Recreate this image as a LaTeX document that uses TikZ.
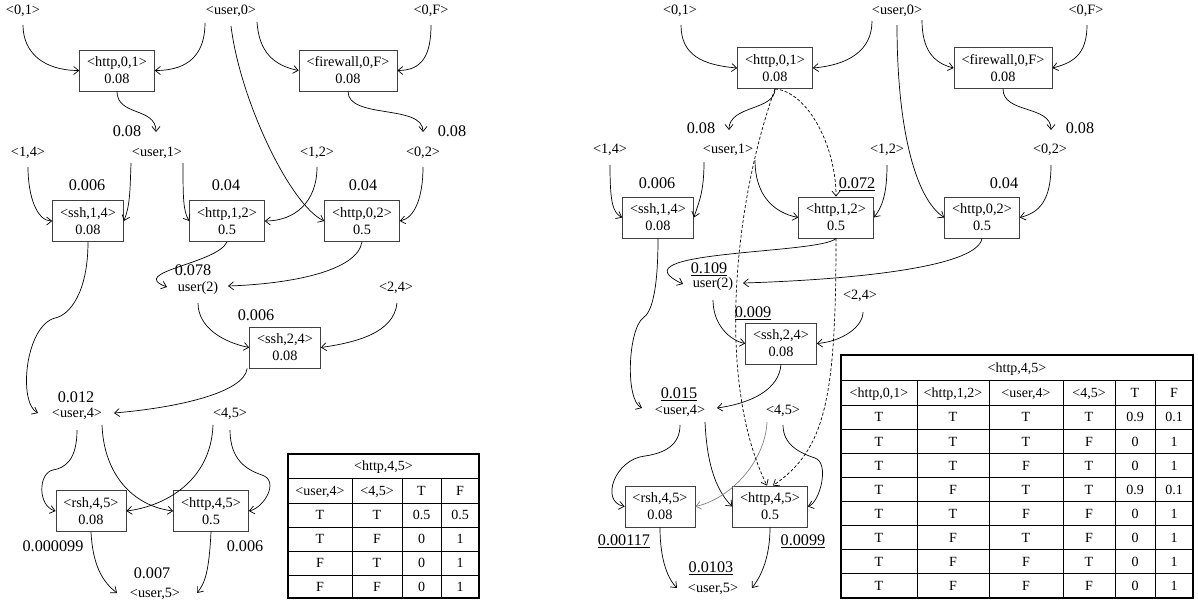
\documentclass[tikz,border=0pt]{standalone}
\usepackage{fontspec}
\setmainfont{Liberation Serif}
\usetikzlibrary{arrows.meta,calc}
\begin{document}
\begin{tikzpicture}[x=1pt,y=-1pt,
  tn/.style={inner sep=0pt, text height=9.7pt, text depth=0pt, font=\fontsize{14.3}{17}\selectfont},
  lb/.style={inner sep=0pt, text height=11pt, text depth=0pt, font=\fontsize{16.2}{19}\selectfont},
  bx/.style={draw=black!75, line width=0.8pt, align=center, inner xsep=7.5pt, inner ysep=0pt, minimum height=41pt, font=\fontsize{14.3}{17}\selectfont},
  ar/.style={line width=0.7pt, -{Straight Barb[length=5pt,width=8pt]}},
  dar/.style={ar, dash pattern=on 3pt off 2pt},
  tc/.style={inner sep=0pt, text height=9.7pt, text depth=0pt, font=\fontsize{14}{16}\selectfont},
  tout/.style={line width=1.5pt},
  tin/.style={line width=0.9pt}
]
\useasboundingbox (0,0) rectangle (1198,603);

% ================= LEFT PANEL =================
\node[tn] (a01) at (23,10) {<0,1>};
\node[tn] (au0) at (231,10) {<user,0>};
\node[tn] (a0F) at (431,10) {<0,F>};
\node[bx] (ah01) at (117,70.5) {<http,0,1>\\0.08};
\node[bx] (afw) at (348,70.5) {<firewall,0,F>\\0.08};
\node[tn] (au1) at (157,152) {<user,1>};
\node[lb] (lau1) at (127,131) {0.08};
\node[tn] (a02) at (423,152) {<0,2>};
\node[lb] (la02) at (452,131) {0.08};
\node[tn] (a14) at (28,152) {<1,4>};
\node[tn] (a12) at (317,152) {<1,2>};
\node[bx] (ash14) at (88,221) {<ssh,1,4>\\0.08};
\node[lb] (lash14) at (87,185) {0.006};
\node[bx] (ah12) at (227,221) {<http,1,2>\\0.5};
\node[lb] (lah12) at (226,185) {0.04};
\node[bx] (ah02) at (362,221) {<http,0,2>\\0.5};
\node[lb] (lah02) at (363,185) {0.04};
\node[tn] (au2) at (198,287) {user(2)};
\node[lb] (lau2) at (193,270) {0.078};
\node[tn] (a24) at (396,287) {<2,4>};
\node[bx] (ash24) at (285,347.5) {<ssh,2,4>\\0.08};
\node[lb] (lash24) at (256,315) {0.006};
\node[tn] (au4) at (77,413) {<user,4>};
\node[lb] (lau4) at (76,397) {0.012};
\node[tn] (a45) at (230,413) {<4,5>};
\node[bx] (arsh) at (91,511) {<rsh,4,5>\\0.08};
\node[bx] (ah45) at (211,511) {<http,4,5>\\0.5};
\node[lb] (larsh) at (53,546) {0.000099};
\node[lb] (lah45) at (245,546) {0.006};
\node[tn] (au5) at (155,593) {<user,5>};
\node[lb] (lau5) at (152,573) {0.007};

\draw[ar] ($(a01)+(0,15)$) .. controls +(0,28) and +(-35,0) .. (ah01.west);
\draw[ar] ($(au0)+(-26,13)$) .. controls +(0,30) and +(35,0) .. (ah01.east);
\draw[ar] ($(au0)+(26,12)$) .. controls +(2,30) and +(-25,-5) .. (afw.west);
\draw[ar] ($(a0F)+(0,15)$) .. controls +(0,30) and +(25,0) .. (afw.east);
\draw[ar] ($(au0)+(0,16)$) .. controls +(9,74) and +(-34,-16) .. (ah02.west);
\draw[ar] (ah01.south) .. controls +(0,25) and +(0,-25) .. ($(au1)+(-1,-20)$);
\draw[ar] (afw.south) .. controls +(0,28) and +(0,-28) .. ($(a02)+(0,-20)$);
\draw[ar] ($(a14)+(0,15)$) .. controls +(0,30) and +(-15,0) .. (ash14.west);
\draw[ar] ($(au1)+(-26,11)$) .. controls +(-1,30) and +(6,-15) .. (ash14.east);
\draw[ar] ($(au1)+(26,11)$) .. controls +(0,35) and +(-6,-10) .. (ah12.west);
\draw[ar] ($(a12)+(0,15)$) .. controls +(0,35) and +(30,0) .. (ah12.east);
\draw[ar] ($(a02)+(0,15)$) .. controls +(0,30) and +(15,-3) .. (ah02.east);
\draw[ar] (ah12.south) .. controls +(-10,22) and +(-40,-15) .. ($(au2)+(-31,0)$);
\draw[ar] (ah02.south) .. controls +(-5,30) and +(60,-2) .. ($(au2)+(30,-1)$);
\draw[ar] ($(au2)+(0,16)$) .. controls +(0,25) and +(-25,-5) .. (ash24.west);
\draw[ar] ($(a24)+(1,16)$) .. controls +(-3,30) and +(35,-5) .. (ash24.east);
\draw[ar] (ash14.south) .. controls +(0,50) and +(15,-3) .. (55,318) .. controls +(-30,8) and +(-20,-10) .. ($(au4)+(-39,0)$);
\draw[ar] ($(ash24.south west)+(-2,0)$) .. controls +(-3,25) and +(60,-5) .. ($(au4)+(37,0)$);
\draw[ar] ($(au4)+(0,17)$) .. controls +(0,30) and +(12,-2) .. (53,470) .. controls +(-15,3) and +(-18,-5) .. (arsh.west);
\draw[ar] ($(au4)+(25,12)$) .. controls +(2,50) and +(-40,-5) .. (ah45.west);
\draw[ar] ($(a45)+(-17,12)$) .. controls +(-2,55) and +(40,-5) .. (arsh.east);
\draw[ar] ($(a45)+(0,17)$) .. controls +(0,30) and +(-15,-5) .. (262,475) .. controls +(18,6) and +(15,-3) .. (ah45.east);
\draw[ar] (arsh.south) .. controls +(2,40) and +(-10,-8) .. ($(au5)+(-38,0)$);
\draw[ar] (ah45.south) .. controls +(-2,40) and +(8,-10) .. ($(au5)+(42,0)$);

% left table
\draw[tin] (288,478) -- (479,478);
\foreach \y in {503,527,551,575} \draw[tin] (288,\y) -- (479,\y);
\foreach \x in {352,402,441} \draw[tin] (\x,478) -- (\x,598);
\draw[tout] (288,454) rectangle (479,598);
\node[tc] (LT-h) at (383.5,466) {<http,4,5>};
\node[tc] (LT-0-1) at (320,490.5) {<user,4>};
\node[tc] (LT-0-2) at (377,490.5) {<4,5>};
\node[tc] (LT-0-3) at (421.5,490.5) {T};
\node[tc] (LT-0-4) at (460,490.5) {F};
\foreach \r/\yy/\a/\b/\c/\d in {1/515/T/T/0.5/0.5, 2/539/T/F/0/1, 3/563/F/T/0/1, 4/586.5/F/F/0/1}{
  \node[tc] (LT-\r-1) at (320,\yy) {\a};
  \node[tc] (LT-\r-2) at (377,\yy) {\b};
  \node[tc] (LT-\r-3) at (421.5,\yy) {\c};
  \node[tc] (LT-\r-4) at (460,\yy) {\d};
}

% ================= RIGHT PANEL =================
\node[tn] (b01) at (680,10) {<0,1>};
\node[tn] (bu0) at (897,10) {<user,0>};
\node[tn] (b0F) at (1086,10) {<0,F>};
\node[bx] (bh01) at (775,68) {<http,0,1>\\0.08};
\node[bx] (bfw) at (1003,68) {<firewall,0,F>\\0.08};
\node[tn] (bu1) at (728,149) {<user,1>};
\node[lb] (lbu1) at (701,128) {0.08};
\node[tn] (b02) at (1050,149) {<0,2>};
\node[lb] (lb02) at (1080,128) {0.08};
\node[tn] (b14) at (610,149) {<1,4>};
\node[tn] (b12) at (887,149) {<1,2>};
\node[bx] (bsh14) at (658,217.5) {<ssh,1,4>\\0.08};
\node[lb] (lbsh14) at (657,183) {0.006};
\node[bx] (bh12) at (836,217.5) {<http,1,2>\\0.5};
\node[lb] (lbh12) at (857,183) {\underline{0.072}};
\node[bx] (bh02) at (982,217.5) {<http,0,2>\\0.5};
\node[lb] (lbh02) at (1004,183) {0.04};
\node[tn] (bu2) at (713,283) {user(2)};
\node[lb] (lbu2) at (709,268) {\underline{0.109}};
\node[tn] (b24) at (860,295) {<2,4>};
\node[bx] (bsh24) at (781,343.5) {<ssh,2,4>\\0.08};
\node[lb] (lbsh24) at (753,312) {\underline{0.009}};
\node[tn] (bu4) at (680,410) {<user,4>};
\node[lb] (lbu4) at (679,393) {\underline{0.015}};
\node[tn] (b45) at (783,410) {<4,5>};
\node[bx] (brsh) at (660,506.5) {<rsh,4,5>\\0.08};
\node[bx] (bh45) at (770,506.5) {<http,4,5>\\0.5};
\node[lb] (lbrsh) at (624,540) {\underline{0.00117}};
\node[lb] (lbh45) at (803,540) {\underline{0.0099}};
\node[tn] (bu5) at (713,588) {<user,5>};
\node[lb] (lbu5) at (711,567) {\underline{0.0103}};

\draw[ar] ($(b01)+(1,15)$) .. controls +(0,30) and +(-35,-3) .. (bh01.west);
\draw[ar] ($(bu0)+(-25,11)$) .. controls +(0,30) and +(35,-3) .. (bh01.east);
\draw[ar] ($(bu0)+(0,15)$) .. controls +(0,100) and +(-30,-20) .. (bh02.west);
\draw[ar] ($(bu0)+(25,10)$) .. controls +(0,30) and +(-20,-5) .. (bfw.west);
\draw[ar] ($(b0F)+(1,15)$) .. controls +(0,30) and +(20,-5) .. (bfw.east);
\draw[ar] (bh01.south) .. controls +(0,22) and +(0,-25) .. ($(bu1)+(1,-19)$);
\draw[ar] (bfw.south) .. controls +(0,25) and +(0,-25) .. ($(b02)+(1,-19)$);
\draw[ar] ($(b14)+(0,16)$) .. controls +(0,35) and +(-10,-5) .. (bsh14.west);
\draw[ar] ($(bu1)+(-24,13)$) .. controls +(0,30) and +(5,-15) .. (bsh14.east);
\draw[ar] ($(bu1)+(27,11)$) .. controls +(0,35) and +(-25,-5) .. (bh12.west);
\draw[ar] ($(b12)+(0,16)$) .. controls +(0,30) and +(8,-10) .. (bh12.east);
\draw[ar] ($(b02)+(1,16)$) .. controls +(0,35) and +(20,-5) .. (bh02.east);
\draw[ar] (bh12.south) .. controls +(-15,16) and +(-73,-34) .. ($(bu2)+(-30,1)$);
\draw[ar] (bh02.south) .. controls +(-5,30) and +(100,-3) .. ($(bu2)+(30,0)$);
\draw[ar] ($(bu2)+(0,17)$) .. controls +(0,25) and +(-15,-3) .. (bsh24.west);
\draw[ar] ($(b24)+(3,17)$) .. controls +(0,15) and +(25,-2) .. (bsh24.east);
\draw[ar] (bsh14.south) .. controls +(0,55) and +(8,-5) .. (643,318) .. controls +(-15,12) and +(-17,-8) .. ($(bu4)+(-38,-2)$);
\draw[ar] (bsh24.south) .. controls +(-2,25) and +(35,-5) .. ($(bu4)+(37,-2)$);
\draw[ar] ($(bu4)+(0,15)$) .. controls +(0,20) and +(20,-3) .. (645,456) .. controls +(-30,3) and +(-25,-5) .. (brsh.west);
\draw[ar] ($(bu4)+(25,12)$) .. controls +(2,45) and +(-15,-15) .. (bh45.west);
\draw[ar,black!50] ($(b45)+(-16,12)$) .. controls +(-2,40) and +(35,-8) .. (brsh.east);
\draw[ar] ($(b45)+(0,15)$) .. controls +(0,20) and +(-15,-5) .. (815,458) .. controls +(15,5) and +(12,-4) .. (bh45.east);
\draw[ar] (brsh.south) .. controls +(0,35) and +(-8,-8) .. ($(bu5)+(-36,0)$);
\draw[ar] (bh45.south) .. controls +(0,35) and +(6,-8) .. ($(bu5)+(39,0)$);
\draw[dar] (bh01.south) .. controls +(-40,111) and +(-52,-106) .. ($(bh45.north)+(-3,0)$);
\draw[dar] (bh01.south) .. controls +(33,3) and +(0,-50) .. (bh12.north);
\draw[dar] (bh12.south) .. controls +(0,162) and +(52,-36) .. ($(bh45.north)+(3,0)$);

% right table
\draw[tin] (841,380) -- (1193,380);
\draw[tin] (841,405) -- (1193,405);
\foreach \k in {1,...,7} \draw[tin] (841,{405+24.125*\k}) -- (1193,{405+24.125*\k});
\foreach \x in {917,989,1063,1115,1155} \draw[tin] (\x,380) -- (\x,598);
\draw[tout] (841,355) rectangle (1193,598);
\node[tc] (RT-h) at (1017,367.5) {<http,4,5>};
\node[tc] (RT-0-1) at (879,392.5) {<http,0,1>};
\node[tc] (RT-0-2) at (953,392.5) {<http,1,2>};
\node[tc] (RT-0-3) at (1026,392.5) {<user,4>};
\node[tc] (RT-0-4) at (1089,392.5) {<4,5>};
\node[tc] (RT-0-5) at (1135,392.5) {T};
\node[tc] (RT-0-6) at (1174,392.5) {F};
\foreach \r/\a/\b/\c/\d/\e/\f in {1/T/T/T/T/0.9/0.1, 2/T/T/T/F/0/1, 3/T/T/F/T/0/1, 4/T/F/T/T/0.9/0.1, 5/T/T/F/F/0/1, 6/T/F/T/F/0/1, 7/T/F/F/T/0/1, 8/T/F/F/F/0/1}{
  \pgfmathsetmacro{\yy}{405+24.125*(\r-1)+12.06}
  \node[tc] (RT-\r-1) at (879,\yy) {\a};
  \node[tc] (RT-\r-2) at (953,\yy) {\b};
  \node[tc] (RT-\r-3) at (1026,\yy) {\c};
  \node[tc] (RT-\r-4) at (1089,\yy) {\d};
  \node[tc] (RT-\r-5) at (1135,\yy) {\e};
  \node[tc] (RT-\r-6) at (1174,\yy) {\f};
}
\end{tikzpicture}
\end{document}
